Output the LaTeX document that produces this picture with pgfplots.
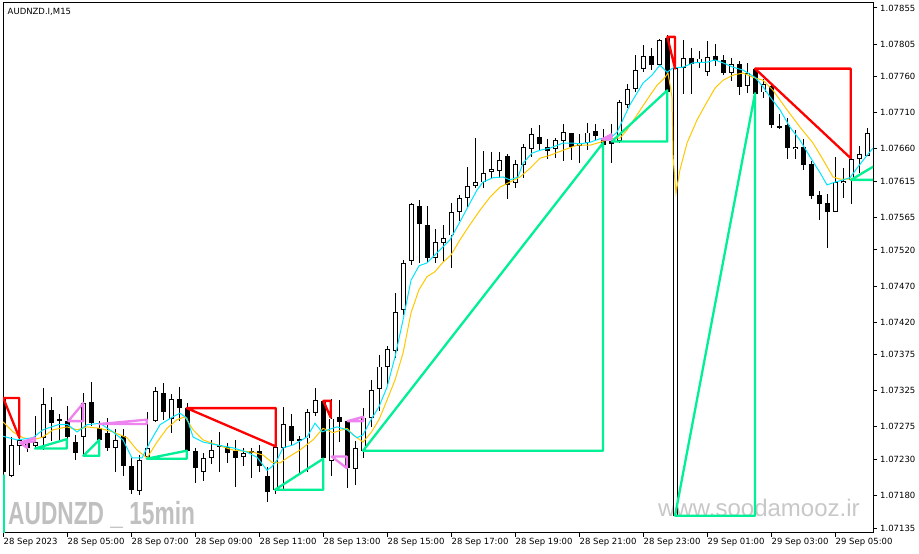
\documentclass[border=0pt]{standalone}
\usepackage{fontspec}
\setmainfont{DejaVu Sans}
\newfontfamily\libsans{Liberation Sans}
\usepackage{pgfplots}
\usepackage{pgfplotstable}
\pgfplotsset{compat=1.18}
\usetikzlibrary{calc,backgrounds}
\definecolor{maC}{RGB}{0,230,255}
\definecolor{maY}{RGB}{255,200,0}
\definecolor{grn}{RGB}{0,240,150}
\definecolor{pnk}{RGB}{238,130,238}
\definecolor{wm}{RGB}{192,192,192}
\definecolor{wm2}{RGB}{200,200,200}

\pgfplotstableread{
x o h l c
0 1.07315 1.07318 1.07204 1.07213
1 1.07208 1.07261 1.07206 1.07251
2 1.07249 1.07262 1.07222 1.07257
3 1.07254 1.07260 1.07240 1.07246
4 1.07249 1.07291 1.07246 1.07255
5 1.07260 1.07330 1.07243 1.07307
6 1.07301 1.07318 1.07257 1.07283
7 1.07287 1.07294 1.07257 1.07285
8 1.07283 1.07305 1.07257 1.07262
9 1.07255 1.07264 1.07229 1.07240
10 1.07262 1.07323 1.07236 1.07309
11 1.07311 1.07339 1.07278 1.07282
12 1.07273 1.07285 1.07250 1.07257
13 1.07267 1.07289 1.07243 1.07247
14 1.07246 1.07273 1.07213 1.07257
15 1.07264 1.07273 1.07208 1.07222
16 1.07222 1.07233 1.07182 1.07188
17 1.07188 1.07236 1.07181 1.07231
18 1.07235 1.07296 1.07229 1.07247
19 1.07285 1.07330 1.07282 1.07326
20 1.07322 1.07337 1.07285 1.07296
21 1.07287 1.07322 1.07268 1.07315
22 1.07314 1.07332 1.07285 1.07301
23 1.07301 1.07309 1.07236 1.07242
24 1.07242 1.07247 1.07199 1.07218
25 1.07213 1.07239 1.07200 1.07233
26 1.07232 1.07257 1.07224 1.07243
27 1.07250 1.07268 1.07213 1.07247
28 1.07247 1.07254 1.07226 1.07240
29 1.07242 1.07257 1.07192 1.07233
30 1.07233 1.07246 1.07221 1.07239
31 1.07242 1.07246 1.07204 1.07240
32 1.07242 1.07250 1.07213 1.07221
33 1.07208 1.07219 1.07171 1.07185
34 1.07188 1.07250 1.07182 1.07247
35 1.07246 1.07303 1.07188 1.07279
36 1.07278 1.07294 1.07250 1.07257
37 1.07260 1.07264 1.07213 1.07257
38 1.07260 1.07301 1.07213 1.07296
39 1.07294 1.07330 1.07291 1.07312
40 1.07311 1.07312 1.07229 1.07232
41 1.07228 1.07315 1.07208 1.07287
42 1.07289 1.07312 1.07254 1.07282
43 1.07282 1.07282 1.07192 1.07217
44 1.07217 1.07257 1.07195 1.07246
45 1.07243 1.07301 1.07232 1.07289
46 1.07289 1.07340 1.07275 1.07327
47 1.07327 1.07376 1.07298 1.07358
48 1.07358 1.07388 1.07336 1.07383
49 1.07381 1.07462 1.07372 1.07434
50 1.07437 1.07506 1.07430 1.07502
51 1.07505 1.07586 1.07499 1.07584
52 1.07581 1.07589 1.07502 1.07556
53 1.07556 1.07582 1.07503 1.07510
54 1.07510 1.07550 1.07503 1.07531
55 1.07531 1.07555 1.07503 1.07537
56 1.07541 1.07585 1.07496 1.07573
57 1.07573 1.07596 1.07561 1.07593
58 1.07593 1.07636 1.07579 1.07610
59 1.07609 1.07675 1.07606 1.07614
60 1.07615 1.07657 1.07606 1.07628
61 1.07628 1.07656 1.07620 1.07632
62 1.07631 1.07656 1.07620 1.07646
63 1.07650 1.07654 1.07592 1.07609
64 1.07613 1.07645 1.07606 1.07640
65 1.07640 1.07668 1.07620 1.07664
66 1.07661 1.07690 1.07649 1.07681
67 1.07678 1.07693 1.07658 1.07668
68 1.07664 1.07675 1.07647 1.07658
69 1.07660 1.07676 1.07649 1.07672
70 1.07671 1.07696 1.07645 1.07683
71 1.07682 1.07683 1.07645 1.07663
72 1.07664 1.07682 1.07642 1.07668
73 1.07668 1.07696 1.07658 1.07683
74 1.07685 1.07696 1.07672 1.07679
75 1.07676 1.07689 1.07663 1.07667
76 1.07672 1.07696 1.07642 1.07668
77 1.07672 1.07728 1.07669 1.07725
78 1.07722 1.07751 1.07717 1.07744
79 1.07744 1.07791 1.07739 1.07771
80 1.07771 1.07804 1.07766 1.07789
81 1.07789 1.07800 1.07769 1.07777
82 1.07777 1.07813 1.07775 1.07811
83 1.07815 1.07818 1.07728 1.07739
84 1.07152 1.07775 1.07152 1.07772
85 1.07773 1.07811 1.07737 1.07786
86 1.07787 1.07801 1.07737 1.07779
87 1.07780 1.07797 1.07773 1.07786
88 1.07768 1.07811 1.07762 1.07789
89 1.07789 1.07805 1.07775 1.07782
90 1.07783 1.07790 1.07762 1.07766
91 1.07766 1.07787 1.07755 1.07779
92 1.07779 1.07783 1.07735 1.07747
93 1.07747 1.07779 1.07737 1.07766
94 1.07771 1.07772 1.07735 1.07737
95 1.07739 1.07758 1.07732 1.07751
96 1.07746 1.07751 1.07690 1.07693
97 1.07692 1.07710 1.07689 1.07690
98 1.07694 1.07703 1.07647 1.07661
99 1.07661 1.07686 1.07647 1.07664
100 1.07664 1.07675 1.07631 1.07639
101 1.07640 1.07645 1.07592 1.07596
102 1.07597 1.07603 1.07563 1.07585
103 1.07586 1.07599 1.07523 1.07573
104 1.07573 1.07649 1.07573 1.07614
105 1.07614 1.07635 1.07593 1.07617
106 1.07617 1.07649 1.07585 1.07646
107 1.07647 1.07664 1.07627 1.07654
108 1.07651 1.07690 1.07651 1.07683
}\candles

\begin{document}
\begin{tikzpicture}
\begin{axis}[
  name=ax,
  width=870bp, height=530bp, scale only axis,
  xmin=-0.0625, xmax=108.6875,
  ymin=1.071281, ymax=1.078619,
  axis line style={black, line width=1bp},
  tick align=outside,
  major tick length=4bp,
  tick style={black, line width=1bp},
  xtick pos=left, ytick pos=right,
  yticklabel pos=right,
  tick label style={font=\fontsize{8.5bp}{10bp}\selectfont},
  xtick={0,8,16,24,32,40,48,56,64,72,80,88,96,104},
  xticklabels={28 Sep 2023,28 Sep 05:00,28 Sep 07:00,28 Sep 09:00,28 Sep 11:00,28 Sep 13:00,28 Sep 15:00,28 Sep 17:00,28 Sep 19:00,28 Sep 21:00,28 Sep 23:00,29 Sep 01:00,29 Sep 03:00,29 Sep 05:00},
  xticklabel style={anchor=north west, inner sep=0pt, yshift=-1bp},
  ytick={1.07135,1.07180,1.07230,1.07275,1.07325,1.07375,1.07420,1.07470,1.07520,1.07565,1.07615,1.07660,1.07710,1.07760,1.07805,1.07855},
  yticklabels={1.07135,1.07180,1.07230,1.07275,1.07325,1.07375,1.07420,1.07470,1.07520,1.07565,1.07615,1.07660,1.07710,1.07760,1.07805,1.07855},
  yticklabel style={anchor=west, inner sep=0pt, xshift=3bp},
  candle/.style={draw=none, mark=none, error bars/.cd, y dir=both, y explicit, error mark=none},
]
% watermarks and title
\node[anchor=base west, inner sep=0pt, text=wm] at (axis description cs:0.00575,0.0151)
  {\scalebox{0.71}[1]{\libsans\bfseries\fontsize{32bp}{34bp}\selectfont AUDNZD \_ 15min}};
\node[anchor=base west, inner sep=0pt, text=wm2] at (axis description cs:0.7529,0.0302)
  {\libsans\fontsize{24bp}{26bp}\selectfont www.soodamooz.ir};
\node[anchor=north west, inner sep=0pt] at (axis description cs:0.0052,0.9906)
  {\fontsize{8.5bp}{10bp}\selectfont AUDNZD.I,M15};

% wicks
\addplot[candle, error bar style={draw=black, solid, line width=1bp}]
  table[x=x, y expr={(\thisrow{h}+\thisrow{l})/2}, y error expr={(\thisrow{h}-\thisrow{l})/2}] {\candles};
% bodies (black)
\addplot[candle, error bar style={draw=black, solid, line width=5bp}]
  table[x=x, y expr={(\thisrow{o}+\thisrow{c})/2}, y error expr={max(abs(\thisrow{o}-\thisrow{c})/2,0.0000069)}] {\candles};
% bodies (white inner for bullish candles)
\addplot[candle, error bar style={draw=white, solid, line width=3.2bp}]
  table[x=x, y expr={(\thisrow{o}+\thisrow{c})/2}, y error expr={max((\thisrow{c}-\thisrow{o})/2-0.0000125,0)}] {\candles};

% yellow MA
\addplot[maY, line width=1bp, mark=none] coordinates {
(-0.06,1.07282)(1.19,1.07268)(2.44,1.07260)(3.69,1.07257)(4.94,1.07261)(6.19,1.07271)(7.94,1.07275)(9.19,1.07271)(10.44,1.07275)(12.06,1.07273)(13.69,1.07268)(15.44,1.07260)(16.69,1.07243)(17.94,1.07232)(19.19,1.07254)(20.44,1.07273)(21.69,1.07285)(22.69,1.07289)(23.69,1.07271)(24.94,1.07257)(26.69,1.07250)(28.69,1.07243)(31.19,1.07240)(32.44,1.07236)(33.56,1.07226)(34.56,1.07225)(35.44,1.07232)(37.06,1.07243)(38.69,1.07257)(39.94,1.07273)(41.19,1.07267)(42.94,1.07273)(43.69,1.07264)(44.94,1.07254)(45.94,1.07267)(46.94,1.07285)(47.94,1.07312)(48.94,1.07340)(49.94,1.07377)(50.94,1.07433)(51.94,1.07465)(52.94,1.07483)(53.94,1.07490)(54.94,1.07503)(55.94,1.07513)(57.06,1.07534)(58.31,1.07555)(59.56,1.07575)(60.81,1.07593)(62.06,1.07607)(63.31,1.07614)(64.56,1.07621)(65.81,1.07633)(67.06,1.07647)(68.31,1.07651)(69.94,1.07658)(71.69,1.07665)(73.31,1.07665)(74.56,1.07669)(75.81,1.07674)(77.06,1.07675)(77.94,1.07686)(79.19,1.07707)(80.44,1.07728)(81.69,1.07748)(82.69,1.07759)(83.06,1.07765)(83.56,1.07732)(83.69,1.07649)(84.06,1.07599)(84.56,1.07631)(85.44,1.07668)(86.69,1.07700)(87.94,1.07725)(88.94,1.07744)(89.94,1.07755)(91.19,1.07762)(92.44,1.07765)(93.69,1.07759)(94.94,1.07755)(96.19,1.07741)(97.94,1.07714)(99.56,1.07690)(101.19,1.07668)(102.44,1.07645)(103.69,1.07621)(104.56,1.07618)(105.81,1.07618)(106.69,1.07621)(107.44,1.07628)(108.69,1.07635)
};
% cyan MA
\addplot[maC, line width=1bp, mark=none] coordinates {
(-0.06,1.07262)(1.69,1.07257)(3.69,1.07260)(4.94,1.07271)(6.81,1.07278)(8.06,1.07278)(9.19,1.07268)(10.44,1.07278)(12.06,1.07280)(13.69,1.07268)(14.94,1.07257)(16.06,1.07232)(17.31,1.07232)(18.31,1.07254)(19.56,1.07278)(21.19,1.07289)(22.06,1.07294)(22.94,1.07287)(23.69,1.07261)(24.94,1.07254)(26.69,1.07250)(28.69,1.07246)(30.44,1.07240)(31.69,1.07233)(32.94,1.07215)(33.56,1.07220)(34.19,1.07229)(34.94,1.07246)(36.19,1.07250)(37.94,1.07261)(38.94,1.07280)(39.81,1.07268)(40.56,1.07271)(41.69,1.07275)(42.94,1.07271)(44.19,1.07260)(44.94,1.07264)(45.94,1.07285)(46.94,1.07303)(47.94,1.07330)(48.94,1.07372)(49.94,1.07423)(50.94,1.07478)(51.94,1.07498)(52.94,1.07502)(54.19,1.07516)(55.81,1.07534)(57.06,1.07559)(58.31,1.07585)(59.19,1.07603)(59.94,1.07614)(61.19,1.07620)(62.44,1.07621)(63.31,1.07617)(64.31,1.07621)(64.94,1.07640)(66.06,1.07654)(67.06,1.07658)(68.31,1.07661)(69.94,1.07668)(71.06,1.07668)(72.06,1.07667)(73.31,1.07669)(74.56,1.07674)(75.56,1.07672)(76.69,1.07683)(78.31,1.07721)(79.94,1.07751)(81.06,1.07762)(82.06,1.07776)(82.94,1.07766)(83.69,1.07772)(84.94,1.07773)(86.19,1.07779)(87.94,1.07780)(88.94,1.07783)(89.94,1.07779)(91.19,1.07773)(92.44,1.07769)(93.94,1.07759)(94.94,1.07746)(95.81,1.07732)(97.06,1.07714)(98.31,1.07690)(99.56,1.07672)(100.81,1.07649)(102.06,1.07627)(102.94,1.07610)(103.69,1.07613)(104.94,1.07617)(105.81,1.07620)(106.81,1.07635)(107.94,1.07651)(108.69,1.07661)
};

% red triangles
\pgfplotsset{tri/.style={line width=2.3bp, mark=none, line join=round, line cap=round}}
\addplot[red, tri] coordinates {(-0.03,1.07315)(1.98,1.07315)(1.98,1.07260)(-0.03,1.07315)};
\addplot[red, tri] coordinates {(22.9,1.07301)(34.03,1.07301)(34.03,1.07248)(22.9,1.07301)};
\addplot[red, tri] coordinates {(39.98,1.07311)(40.9,1.07311)(40.9,1.07288)(39.98,1.07311)};
\addplot[red, tri] coordinates {(82.98,1.07815)(83.94,1.07815)(83.94,1.07771)(82.98,1.07815)};
\addplot[red, tri] coordinates {(93.94,1.07771)(105.9,1.07771)(105.9,1.07647)(93.94,1.07771)};

% green triangles
\addplot[grn, tri] coordinates {(3.94,1.07245)(7.9,1.07258)(7.9,1.07245)(3.94,1.07245)};
\addplot[grn, tri] coordinates {(9.98,1.07235)(11.98,1.07257)(11.98,1.07235)(9.98,1.07235)};
\addplot[grn, tri] coordinates {(17.9,1.07231)(22.9,1.07242)(22.9,1.07231)(17.9,1.07231)};
\addplot[grn, tri] coordinates {(33.94,1.07188)(39.98,1.07231)(39.98,1.07188)(33.94,1.07188)};
\addplot[grn, tri] coordinates {(44.94,1.07242)(74.94,1.07668)(74.94,1.07242)(44.94,1.07242)};
\addplot[grn, tri] coordinates {(76.03,1.07670)(82.98,1.07741)(82.98,1.07670)(76.03,1.07670)};
\addplot[grn, tri] coordinates {(83.94,1.07152)(93.94,1.07737)(93.94,1.07152)(83.94,1.07152)};
\addplot[grn, tri] coordinates {(105.94,1.07617)(110.8,1.07649)(110.8,1.07617)(105.94,1.07617)};
\addplot[grn, tri] coordinates {(0.05,1.07208)(0.05,1.07100)};

% violet triangles
\addplot[pnk, tri] coordinates {(2.06,1.07253)(3.94,1.07260)(3.94,1.07255)(2.06,1.07253)};
\addplot[pnk, tri] coordinates {(2.06,1.07253)(2.94,1.07246)(2.94,1.07253)(2.06,1.07253)};
\addplot[pnk, tri] coordinates {(8.1,1.07283)(9.98,1.07308)(9.98,1.07283)(8.1,1.07283)};
\addplot[pnk, tri] coordinates {(11.98,1.07279)(17.9,1.07285)(17.9,1.07279)(11.98,1.07279)};
\addplot[pnk, tri] coordinates {(41.03,1.07234)(42.9,1.07218)(42.9,1.07234)(41.03,1.07234)};
\addplot[pnk, tri] coordinates {(43.03,1.07283)(44.98,1.07289)(44.98,1.07283)(43.03,1.07283)};
\addplot[pnk, tri, fill=pnk] coordinates {(74.8,1.07673)(76.0,1.07680)(76.0,1.07673)(74.8,1.07673)};
\end{axis}
\pgfresetboundingbox
\path[use as bounding box] ($(ax.south west)+(-3bp,-21bp)$) rectangle ($(ax.north east)+(46bp,3bp)$);
\begin{scope}[on background layer]
\fill[white] ($(ax.south west)+(-3bp,-21bp)$) rectangle ($(ax.north east)+(46bp,3bp)$);
\end{scope}
\end{tikzpicture}
\end{document}
